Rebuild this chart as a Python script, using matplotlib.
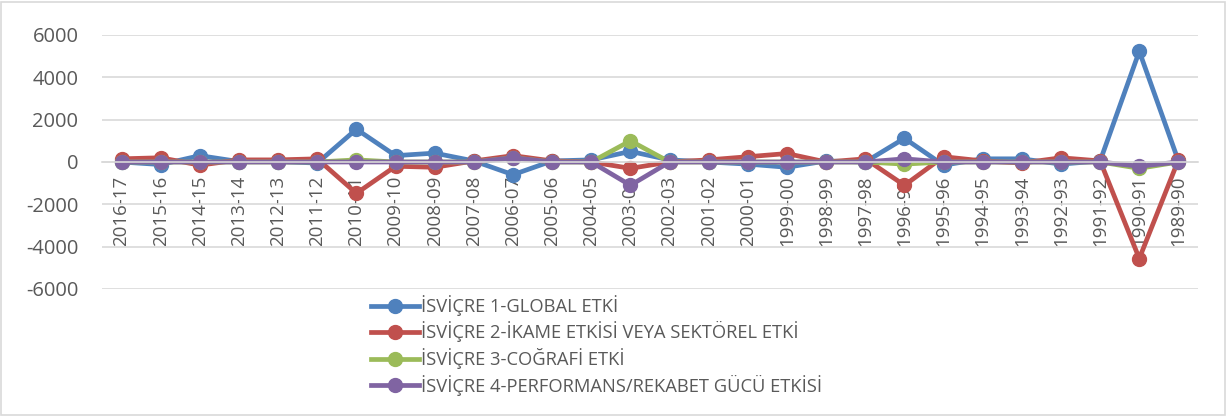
import matplotlib
matplotlib.use("Agg")
import matplotlib.pyplot as plt
from matplotlib.patches import Rectangle

categories = ["2016-17", "2015-16", "2014-15", "2013-14", "2012-13", "2011-12", "2010-11",
              "2009-10", "2008-09", "2007-08", "2006-07", "2005-06", "2004-05", "2003-04",
              "2002-03", "2001-02", "2000-01", "1999-00", "1998-99", "1997-98", "1996-97",
              "1995-96", "1994-95", "1993-94", "1992-93", "1991-92", "1990-91", "1989-90"]

global_etki = [0, -120, 300, 20, 20, -50, 1550, 300, 420, 50, -600, 50, 100, 500, 100, 0,
               -100, -250, 50, 0, 1120, -150, 150, 150, -100, 50, 5230, 50]
ikame_etki = [150, 200, -150, 100, 100, 150, -1480, -200, -250, 50, 300, 50, 0, -300, 0, 100,
              250, 400, 0, 150, -1100, 250, 50, -50, 200, 50, -4560, 100]
cografi_etki = [0, 0, 0, 0, 0, 0, 100, 0, 0, 0, 200, 0, 0, 1000, 0, 0,
                0, 0, 0, 0, -100, 0, 0, 0, 0, 0, -300, 0]
performans_etki = [0, 0, 0, 0, 0, 0, 0, 0, 0, 0, 200, 0, 0, -1100, 0, 0,
                   0, 0, 0, 0, 150, 0, 0, 0, 0, 0, -200, 0]

series_names = ["İSVİÇRE 1-GLOBAL ETKİ",
                "İSVİÇRE 2-İKAME ETKİSİ VEYA SEKTÖREL ETKİ",
                "İSVİÇRE 3-COĞRAFİ ETKİ",
                "İSVİÇRE 4-PERFORMANS/REKABET GÜCÜ ETKİSİ"]
colors = ["#4F81BD", "#C0504D", "#9BBB59", "#8064A2"]
yticks = [-6000, -4000, -2000, 0, 2000, 4000, 6000]

plt.rcParams['font.family'] = ['Open Sans', 'DejaVu Sans']

W, H = 1227, 416
fig = plt.figure(figsize=(W / 100, H / 100), dpi=100)
fig.patches.append(Rectangle((1 / W, 1 / H), 1 - 3 / W, 1 - 3 / H, transform=fig.transFigure,
                             fill=False, edgecolor="#D9D9D9", linewidth=1.2))

ax = fig.add_axes([102 / W, 1 - 289 / H, (1198 - 102) / W, (289 - 35) / H])
x = list(range(len(categories)))
for vals, name, c in zip([global_etki, ikame_etki, cografi_etki, performans_etki], series_names, colors):
    ax.plot(x, vals, color=c, linewidth=3.4, marker="o", markersize=10, label=name,
            solid_joinstyle="round")

ax.set_xlim(-0.5, len(categories) - 0.5)
ax.set_ylim(-6000, 6000)
ax.set_yticks(yticks)
ax.set_yticklabels([str(v) for v in yticks])
ax.yaxis.grid(True, color="#D9D9D9", linewidth=1.2)
ax.set_axisbelow(True)
for s in ["top", "right", "left"]:
    ax.spines[s].set_visible(False)
ax.spines["bottom"].set_position(("data", 0))
ax.spines["bottom"].set_color("#D9D9D9")
ax.spines["bottom"].set_linewidth(1.2)
ax.set_xticks(x)
ax.set_xticklabels(categories, rotation=90, fontsize=13.5, color="#595959")
ax.tick_params(axis="x", length=0, pad=10)
ax.tick_params(axis="y", length=0, labelsize=14.5, labelcolor="#595959", pad=17)

leg = fig.legend(loc="upper left", bbox_to_anchor=(371 / W, 1 - 295 / H), frameon=False,
                 fontsize=13.2, handlelength=2.6, handletextpad=0.15, labelspacing=0.3,
                 borderaxespad=0, borderpad=0)
for t in leg.get_texts():
    t.set_color("#595959")

fig.savefig("out.png", dpi=100)
